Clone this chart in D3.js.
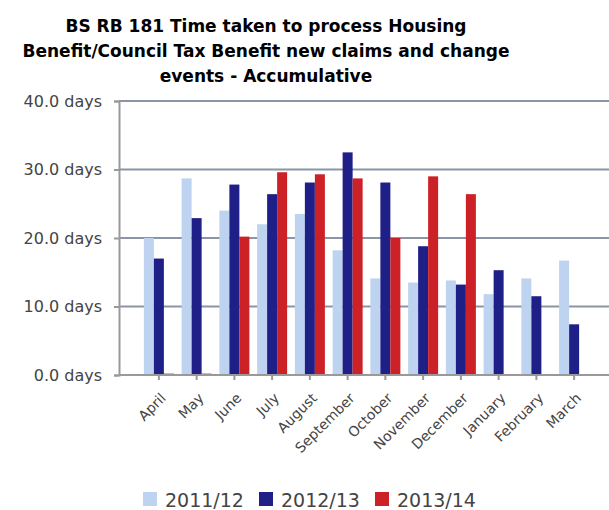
<!DOCTYPE html>
<html>
<head>
<meta charset="utf-8">
<script src="https://cdn.jsdelivr.net/npm/d3@7"></script>
<style>
  body { margin: 0; background: #fff; }
  text { font-family: "DejaVu Sans", Verdana, sans-serif; }
</style>
</head>
<body>
<script>
// chart data
const months = ["April", "May", "June", "July", "August", "September", "October",
  "November", "December", "January", "February", "March"];
const seriesNames = ["2011/12", "2012/13", "2013/14"];
const values2011 = [20.0, 28.7, 24.0, 22.0, 23.5, 18.2, 14.1, 13.5, 13.8, 11.8, 14.1, 16.7];
const values2012 = [17.0, 22.9, 27.8, 26.4, 28.1, 32.5, 28.1, 18.8, 13.2, 15.3, 11.5, 7.4];
const values2013 = [0.2, 0.2, 20.2, 29.6, 29.3, 28.7, 20.0, 29.0, 26.4, null, null, null];
const yTicks = [0, 10, 20, 30, 40];
const titleLines = ["BS RB 181 Time taken to process Housing",
  "Benefit/Council Tax Benefit new claims and change",
  "events - Accumulative"];

const colors = ["#bdd3ef", "#1f1f88", "#cc2127"];
const series = [values2011, values2012, values2013];

const W = 609, H = 510;
const plot = { left: 119, right: 609, top: 101, bottom: 375 };

const svg = d3.select("body").append("svg")
  .attr("width", W)
  .attr("height", H);

// title
svg.append("g").selectAll("text")
  .data(titleLines)
  .join("text")
  .attr("x", 266)
  .attr("y", (d, i) => 32 + i * 25)
  .attr("text-anchor", "middle")
  .attr("font-size", 17)
  .attr("font-weight", "bold")
  .attr("fill", "#000")
  .text(d => d);

const x = d3.scaleBand().domain(months).range([140, 593]);
const inner = d3.scaleBand().domain(d3.range(3)).range([0, 30]);
const y = d3.scaleLinear().domain([0, 40]).range([plot.bottom, plot.top]);

// grid lines
svg.append("g").selectAll("line")
  .data(yTicks.filter(d => d > 0))
  .join("line")
  .attr("x1", plot.left)
  .attr("x2", plot.right)
  .attr("y1", d => y(d))
  .attr("y2", d => y(d))
  .attr("stroke", "#8a95a5")
  .attr("stroke-width", 2);

// bars
const groups = svg.append("g").selectAll("g")
  .data(months)
  .join("g")
  .attr("transform", d => `translate(${x(d) + x.bandwidth() / 2 - 15},0)`);

groups.selectAll("rect")
  .data((m, i) => series.map((s, k) => ({ k, v: s[i] })).filter(d => d.v != null))
  .join("rect")
  .attr("x", d => inner(d.k))
  .attr("width", inner.bandwidth())
  .attr("y", d => y(d.v))
  .attr("height", d => y(0) - y(d.v))
  .attr("fill", d => colors[d.k]);

// y axis
const yAxis = svg.append("g")
  .attr("transform", `translate(${plot.left},0)`)
  .call(d3.axisLeft(y).tickValues(yTicks).tickSize(5).tickPadding(12)
    .tickFormat(d => d3.format(".1f")(d) + " days"));
yAxis.select(".domain").attr("stroke", "#999").attr("stroke-width", 2);
yAxis.selectAll(".tick line").attr("stroke", "#999").attr("stroke-width", 2);
yAxis.selectAll(".tick text").attr("font-size", 16).attr("fill", "#444")
  .attr("font-family", "DejaVu Sans, Verdana, sans-serif");

// x axis
const xAxis = svg.append("g")
  .attr("transform", `translate(0,${plot.bottom})`)
  .call(d3.axisBottom(x).tickSize(5).tickSizeOuter(0));
xAxis.select(".domain").attr("d", `M${plot.left},0H${plot.right}`)
  .attr("stroke", "#999").attr("stroke-width", 2);
xAxis.selectAll(".tick line").attr("stroke", "#999").attr("stroke-width", 2);
xAxis.selectAll(".tick text")
  .attr("font-size", 14)
  .attr("fill", "#444")
  .attr("font-family", "DejaVu Sans, Verdana, sans-serif")
  .attr("text-anchor", "end")
  .attr("x", 0)
  .attr("y", 0)
  .attr("dy", 0)
  .attr("transform", "translate(8,24) rotate(-45)");

// legend
const legendX = [143, 259, 375];
const legend = svg.append("g").selectAll("g")
  .data(seriesNames)
  .join("g")
  .attr("transform", (d, i) => `translate(${legendX[i]},492)`);
legend.append("rect")
  .attr("width", 14)
  .attr("height", 14)
  .attr("fill", (d, i) => colors[i]);
legend.append("text")
  .attr("x", 22)
  .attr("y", 15)
  .attr("font-size", 19)
  .attr("fill", "#444")
  .text(d => d);
</script>
</body>
</html>
